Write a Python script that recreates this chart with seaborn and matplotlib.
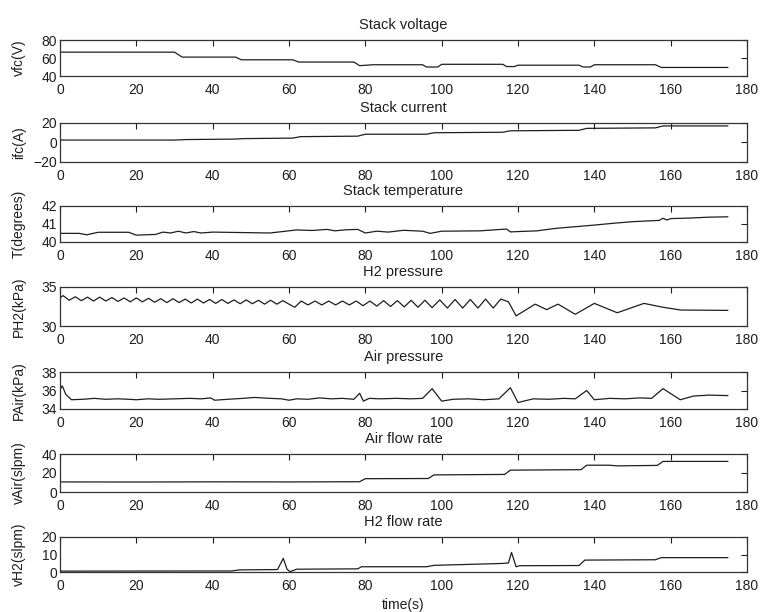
import numpy as np
import pandas as pd
import matplotlib
matplotlib.use("Agg")
import matplotlib.pyplot as plt
import seaborn as sns

sns.set_style("white")
plt.rcParams["font.family"] = ["Liberation Sans", "DejaVu Sans"]

# ---- measured fuel-cell stack signals (time in s) ----
volt_t = [0, 30, 32, 46, 47.5, 61, 62.5, 77, 78.5, 82, 95, 96, 99, 100, 116, 117, 119, 120,
          136, 137, 139, 140, 156, 157.5, 175]
volt_v = [66.5, 66.5, 61, 61, 58, 58, 55.5, 55.5, 51.5, 52.5, 52.5, 50, 50, 53, 53, 50.5, 50.5, 52,
          52, 50, 50, 52.5, 52.5, 49.5, 49.5]

curr_t = [0, 30, 33, 46, 48, 61, 63, 78, 80, 96, 98, 116, 118, 136, 138, 156, 158, 175]
curr_v = [2.5, 2.5, 3, 3.5, 4, 4.5, 6, 6.5, 8.5, 8.5, 10, 10.5, 12, 12.5, 14.5, 15, 17, 17]

temp_t = [0, 5, 7, 10, 18, 20, 25, 27, 29, 31, 33, 35, 37, 40, 55, 62, 66, 70, 72, 75, 78,
          80, 83, 86, 90, 95, 97, 100, 110, 117, 118, 120, 125, 130, 135, 140, 145, 150,
          157, 158, 159, 160, 165, 170, 175]
temp_v = [40.48, 40.48, 40.4, 40.54, 40.54, 40.38, 40.42, 40.55, 40.5, 40.6, 40.5, 40.58, 40.5,
          40.55, 40.5, 40.67, 40.64, 40.7, 40.62, 40.68, 40.7, 40.5, 40.6, 40.55, 40.65, 40.6,
          40.48, 40.6, 40.62, 40.72, 40.56, 40.58, 40.62, 40.76, 40.85, 40.94, 41.04, 41.13,
          41.2, 41.32, 41.22, 41.3, 41.33, 41.38, 41.4]

ph2_t = [0, 0.8, 2.4, 4.0, 5.6, 7.2, 8.8, 10.4, 12.0, 13.6, 15.2, 16.8, 18.4, 20.0, 21.6,
         23.2, 24.8, 26.4, 28.0, 29.6, 31.2, 32.8, 34.4, 36.0, 37.6, 39.2, 40.8, 42.4, 44.0,
         45.6, 47.2, 48.8, 50.4, 52.0, 53.6, 55.2, 56.8, 58.4, 60.0, 61.5, 63.2, 65.0, 66.8,
         68.6, 70.4, 72.2, 74.0, 75.8, 77.6, 79.4, 81.2, 83.0, 84.8, 86.6, 88.4, 90.2, 92.0,
         93.8, 95.6, 97.5, 99.5, 101.5, 103.5, 105.5, 107.5, 109.5, 111.5, 113.5, 115.5,
         117.5, 119.5, 124.5, 127.5, 130.5, 135.0, 140.0, 146.0, 153.0, 158.0, 162.6, 175.0]
ph2_v = [33.6, 33.9, 33.3, 33.75, 33.25, 33.7, 33.2, 33.7, 33.2, 33.65, 33.15, 33.6, 33.1,
         33.6, 33.1, 33.55, 33.05, 33.5, 33.0, 33.5, 33.0, 33.45, 32.95, 33.45, 32.95, 33.4,
         32.9, 33.4, 32.9, 33.35, 32.85, 33.35, 32.85, 33.3, 32.8, 33.3, 32.8, 33.25, 32.8,
         32.4, 33.2, 32.7, 33.2, 32.7, 33.2, 32.7, 33.2, 32.7, 33.2, 32.6, 33.2, 32.55, 33.25,
         32.5, 33.25, 32.45, 33.3, 32.4, 33.3, 32.35, 33.35, 32.3, 33.4, 32.3, 33.4, 32.3,
         33.45, 32.3, 33.45, 33.1, 31.3, 32.8, 32.1, 32.8, 31.5, 32.9, 31.7, 32.9, 32.4,
         32.05, 32.0]

pair_t = [0, 0.6, 1.5, 3, 6, 9, 12, 15, 18, 20, 23, 26, 30, 34, 37, 39.5, 40.5, 44, 48, 51,
          55, 58, 60, 62, 65, 68, 71, 74, 77, 78.5, 79.5, 81, 84, 88, 92, 95, 97.5, 100,
          103, 107, 111, 115, 118, 120, 124, 128, 132, 135, 138, 140, 144, 148, 152, 155,
          158, 162.5, 166, 170, 175]
pair_v = [36.1, 36.5, 35.6, 35.0, 35.05, 35.15, 35.05, 35.1, 35.05, 35.0, 35.1, 35.05, 35.1,
          35.15, 35.1, 35.2, 34.95, 35.05, 35.15, 35.25, 35.15, 35.1, 34.95, 35.1, 35.05, 35.2,
          35.1, 35.15, 35.05, 35.7, 34.85, 35.15, 35.1, 35.15, 35.1, 35.15, 36.2, 34.85, 35.05,
          35.1, 35.0, 35.1, 36.3, 34.7, 35.1, 35.05, 35.15, 35.1, 36.0, 35.0, 35.15, 35.1, 35.2,
          35.15, 36.2, 35.0, 35.4, 35.5, 35.45]

vair_t = [0, 20, 40, 60, 78.5, 80, 96.5, 98, 116.5, 118, 136.5, 138, 144, 146, 156.5, 158, 175]
vair_v = [10.6, 10.5, 10.7, 10.6, 10.8, 14, 14.2, 18, 18.5, 23, 23.5, 28.2, 28.2, 27.5, 28,
          32.2, 32.2]

vh2_t = [0, 45, 47, 57, 58.5, 59.5, 60.3, 62, 78, 79, 96, 98, 116, 117.5, 118.3, 119.5,
         120.5, 136, 137.5, 156, 157.5, 175]
vh2_v = [0.5, 0.6, 1.2, 1.4, 7.8, 1.5, 0.2, 1.6, 1.8, 3.0, 3.0, 3.8, 4.9, 5.2, 11.2, 3.0,
         3.6, 3.7, 6.8, 7.0, 8.2, 8.2]

panels = [
    ("Stack voltage", "vfc(V)", volt_t, volt_v, (40, 80), [40, 60, 80]),
    ("Stack current", "ifc(A)", curr_t, curr_v, (-20, 20), [-20, 0, 20]),
    ("Stack temperature", "T(degrees)", temp_t, temp_v, (40, 42), [40, 41, 42]),
    ("H2 pressure", "PH2(kPa)", ph2_t, ph2_v, (30, 35), [30, 35]),
    ("Air pressure", "PAir(kPa)", pair_t, pair_v, (34, 38), [34, 36, 38]),
    ("Air flow rate", "vAir(slpm)", vair_t, vair_v, (0, 40), [0, 20, 40]),
    ("H2 flow rate", "vH2(slpm)", vh2_t, vh2_v, (0, 20), [0, 10, 20]),
]

W, H = 762, 612
fig = plt.figure(figsize=(W / 100, H / 100), dpi=100)

tops = [40, 123, 206, 287, 372, 454, 537]
bottoms = [76, 162, 242, 326, 409, 492, 572]
left_px, right_px = 60, 747

ink = "#1e1e1e"
for i, (title, ylabel, t, v, ylim, yticks) in enumerate(panels):
    ax = fig.add_axes([left_px / W, 1 - bottoms[i] / H,
                       (right_px - left_px) / W, (bottoms[i] - tops[i]) / H])
    df = pd.DataFrame({"time": t, "value": v})
    sns.lineplot(data=df, x="time", y="value", ax=ax, color=ink, linewidth=0.9,
                 estimator=None, sort=False)
    ax.set_xlim(0, 180)
    ax.set_ylim(*ylim)
    ax.set_xticks(range(0, 181, 20))
    ax.set_yticks(yticks)
    ax.tick_params(direction="in", top=True, right=True, length=4, width=0.8,
                   labelsize=10, pad=5, colors=ink)
    ax.tick_params(axis="y", pad=2)
    for s in ax.spines.values():
        s.set_color("#333333")
        s.set_linewidth(0.9)
    ax.set_title(title, fontsize=10.5, color=ink, pad=8)
    ax.set_ylabel(ylabel, fontsize=10, color=ink)
    ax.yaxis.set_label_coords((26 - left_px) / (right_px - left_px), 0.5)
    if i == len(panels) - 1:
        ax.set_xlabel("time(s)", fontsize=10, color=ink, labelpad=4)
    else:
        ax.set_xlabel("")

fig.savefig("out.png", dpi=100, facecolor="white")
